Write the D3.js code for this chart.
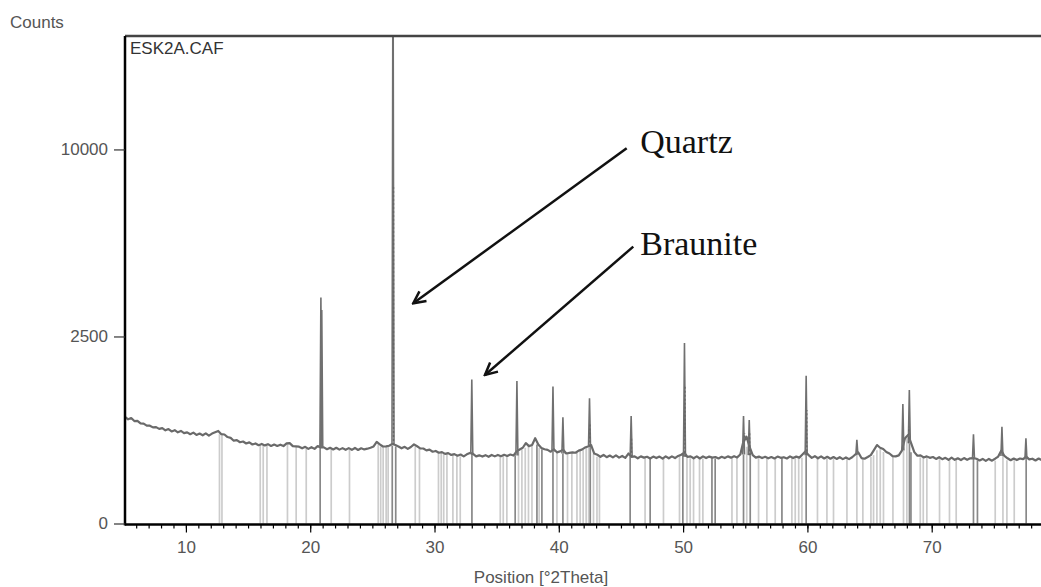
<!DOCTYPE html>
<html>
<head>
<meta charset="utf-8">
<script src="https://cdn.jsdelivr.net/npm/d3@7"></script>
<style>
  body { margin: 0; background: #fff; }
  text { font-family: Arial, "Liberation Sans", sans-serif; }
</style>
</head>
<body>
<svg width="1041" height="587"></svg>
<script>
// measured scan ESK2A.CAF: background counts from 5.1 deg, one value every 0.25 deg
const scanStart = 5.1;
const scanStep = 0.25;
const bgCounts = [
  812, 776, 795, 750,  752, 716, 712, 684,  684, 660, 664, 640,  650, 620, 638, 606,
  622, 594, 612, 584,  594, 570, 590, 560,  578, 556, 580, 552,  578, 596, 612, 570,
  566, 534, 524, 490,  496, 472, 480, 458,  470, 446, 458, 438,  452, 436, 450, 430,
  446, 430, 444, 428,  458, 462, 428, 426,  422, 404, 420, 398,  416, 398, 428, 414,
  414, 394, 410, 392,  410, 390, 406, 388,  406, 388, 408, 386,  404, 392, 400, 410,
  424, 476, 448, 424,  426, 432, 452, 440,  424, 404, 420, 398,  418, 448, 426, 404,
  402, 382, 390, 368,  376, 358, 364, 346,  354, 336, 344, 328,  340, 322, 342, 356,
  346, 322, 332, 320,  334, 318, 336, 322,  336, 324, 338, 326,  340, 330, 372, 392,
  410, 462, 428, 440,  520, 446, 408, 394,  388, 368, 394, 362,  372, 390, 350, 356,
  362, 358, 380, 390,  412, 424, 440, 350,  338, 318, 336, 314,  330, 312, 332, 310,
  326, 308, 350, 318,  322, 304, 322, 310,  318, 302, 320, 306,  320, 300, 322, 304,
  322, 306, 326, 338,  360, 318, 322, 304,  322, 302, 322, 306,  320, 310, 316, 302,
  318, 306, 322, 310,  324, 312, 340, 480,  540, 420, 334, 310,  320, 306, 318, 304,
  316, 302, 320, 308,  314, 302, 322, 306,  320, 310, 340, 372,  334, 308, 324, 304,
  322, 302, 318, 300,  316, 298, 314, 296,  312, 296, 314, 340,  360, 306, 300, 316,
  334, 384, 440, 410,  396, 366, 350, 324,  322, 332, 380, 520,  560, 460, 364, 328,
  332, 312, 322, 308,  316, 298, 314, 296,  308, 290, 310, 290,  304, 288, 306, 290,
  304, 306, 300, 284,  298, 280, 298, 282,  300, 320, 380, 326,  304, 286, 302, 288,
  302, 296, 320, 294,  300, 284, 302, 286,  300, 284, 298, 286,  292
];

// sharp peaks on top of the background, [2theta, counts at top]
const peaks = [[20.86, 3650], [20.93, 3260], [26.66, 26000], [33.0, 1480], [36.63, 1450], [39.53, 1340],
  [40.33, 805], [42.47, 1120], [45.82, 825], [50.11, 2330], [54.86, 825], [55.32, 765], [59.9, 1560],
  [63.98, 500], [67.68, 1020], [68.2, 1275], [73.36, 570], [75.65, 670], [77.58, 518]];

// fitted peak markers (dotted), [2theta, counts]
const peakMarks = [[26.7, 8110], [42.5, 722], [45.85, 539], [50.15, 1338], [54.95, 585], [55.35, 585],
  [59.95, 921], [68.15, 670]];

// reference pattern lines, strong and weak
const strongLines = [20.80, 26.60, 26.88, 33.01, 36.49, 38.24, 38.64, 39.53, 40.33, 42.53, 45.74, 47.35,
  49.98, 52.32, 52.58, 54.86, 55.40, 57.95, 59.90, 68.21, 68.33, 73.36, 73.68, 77.60];
const weakLines = [12.70, 12.90, 15.98, 16.22, 16.52, 18.17, 18.87, 19.68, 21.69, 23.16, 25.47, 25.67,
  25.87, 26.11, 26.27, 28.45, 28.79, 30.32, 30.54, 30.74, 31.00, 31.48, 31.80, 32.07, 35.29, 35.53, 35.82,
  36.76, 37.03, 37.30, 37.56, 37.84, 38.42, 39.85, 40.70, 41.05, 41.46, 41.72, 41.96, 42.20, 42.40, 42.79,
  43.07, 43.27, 46.94, 48.42, 49.71, 50.31, 50.57, 50.84, 51.32, 51.59, 53.93, 54.33, 55.12, 56.07, 56.74,
  57.41, 58.75, 59.02, 59.30, 59.56, 60.81, 61.57, 62.10, 63.18, 63.98, 64.46, 65.11, 65.32, 65.59, 65.86,
  66.12, 66.88, 67.73, 68.00, 69.08, 69.32, 69.61, 70.63, 71.43, 71.97, 75.11, 75.73, 76.05, 76.64];

const yTicks = [0, 2500, 10000];
const xTicks = [10, 20, 30, 40, 50, 60, 70];
const xMinor = d3.range(6, 81);

// annotations: label, text anchor and arrow from/to, in [2theta, counts]
const labels = ['Quartz', 'Braunite'];
const labelAt = [[46.55, 9814], [46.55, 5154]];
const arrowFrom = [[45.46, 10064], [45.99, 5478]];
const arrowTo = [[28.29, 3466], [34.06, 1577]];

const background = bgCounts.map((c, i) => [scanStart + i * scanStep, c]);

const svg = d3.select('svg');

const x = d3.scaleLinear().domain([5.1, 80]).range([125, 125 + 74.9 * 12.43]);
const y = d3.scaleSqrt().domain([0, 16985]).range([523.5, 36]);

svg.append('clipPath').attr('id', 'plot')
  .append('rect').attr('x', 125).attr('y', 36).attr('width', 1000).attr('height', 488);

const plot = svg.append('g').attr('clip-path', 'url(#plot)');

// background level under a line = lowest measured value nearby
const baseAt = t => d3.min(background.filter(p => Math.abs(p[0] - t) <= 0.3), p => p[1]) || 300;

plot.selectAll('.weak')
  .data(weakLines)
  .enter()
  .append('line')
  .classed('weak', true)
  .attr('x1', d => x(d)).attr('x2', d => x(d))
  .attr('y1', y(0)).attr('y2', d => y(baseAt(d)))
  .attr('stroke', '#cccccc')
  .attr('stroke-width', 1.7);

plot.selectAll('.strong')
  .data(strongLines)
  .enter()
  .append('line')
  .classed('strong', true)
  .attr('x1', d => x(d)).attr('x2', d => x(d))
  .attr('y1', y(0)).attr('y2', d => y(baseAt(d)))
  .attr('stroke', '#888')
  .attr('stroke-width', 1.7);

const line = d3.line().x(d => x(d[0])).y(d => y(d[1]));

plot.append('path')
  .datum(background)
  .attr('fill', 'none')
  .attr('stroke', '#6a6a6a')
  .attr('stroke-width', 2.2)
  .attr('stroke-linejoin', 'round')
  .attr('d', line);

plot.selectAll('.peak')
  .data(peaks)
  .enter()
  .append('path')
  .classed('peak', true)
  .attr('fill', 'none')
  .attr('stroke', '#707070')
  .attr('stroke-width', 1.6)
  .attr('d', d => line([[d[0] - 0.08, baseAt(d[0])], d, [d[0] + 0.08, baseAt(d[0])]]));

plot.selectAll('.mark')
  .data(peakMarks)
  .enter()
  .append('line')
  .classed('mark', true)
  .attr('x1', d => x(d[0])).attr('x2', d => x(d[0]))
  .attr('y1', d => y(baseAt(d[0]))).attr('y2', d => y(d[1]))
  .attr('stroke', '#666')
  .attr('stroke-width', 1.4)
  .attr('stroke-dasharray', '2,2');

// frame
svg.append('line').attr('x1', 125).attr('x2', 1041).attr('y1', 36).attr('y2', 36)
  .attr('stroke', '#444').attr('stroke-width', 2.5);

const xAxis = svg.append('g').attr('transform', `translate(0,${y(0) + 1})`);
xAxis.call(d3.axisBottom(x).tickValues(xMinor).tickSize(4).tickFormat(''));
xAxis.call(g => g.select('.domain').remove());
const xMajor = svg.append('g').attr('transform', `translate(0,${y(0) + 1})`)
  .call(d3.axisBottom(x).tickValues(xTicks).tickSize(8).tickPadding(8).tickFormat(d3.format('d')));
xMajor.select('.domain').attr('d', `M${x(5.1)},0H1041`).attr('stroke-width', 2.5);
svg.selectAll('.tick line').attr('stroke', '#000').attr('stroke-width', 1.2);

const yAxis = svg.append('g').attr('transform', `translate(${x(5.1)},0)`)
  .call(d3.axisLeft(y).tickValues(yTicks).tickSize(11).tickPadding(6).tickFormat(d3.format('d')));
yAxis.select('.domain').attr('d', `M0,36V${y(0) + 2}`).attr('stroke-width', 2.5);
yAxis.selectAll('.tick line').attr('stroke', '#333').attr('stroke-width', 1.2);

svg.selectAll('.tick text')
  .attr('fill', '#555')
  .style('font-size', '17px');

svg.append('text').attr('x', 10).attr('y', 28)
  .attr('fill', '#555').style('font-size', '17px').text('Counts');

svg.append('text').attr('x', 130).attr('y', 54)
  .attr('fill', '#333').style('font-size', '17px').text('ESK2A.CAF');

svg.append('text').attr('x', 541).attr('y', 583).attr('text-anchor', 'middle')
  .attr('fill', '#555').style('font-size', '17px').text('Position [°2Theta]');

// arrows with labels
svg.append('defs').append('marker')
  .attr('id', 'head')
  .attr('viewBox', '-14 -8 16 16')
  .attr('refX', 0).attr('refY', 0)
  .attr('markerUnits', 'userSpaceOnUse')
  .attr('markerWidth', 16).attr('markerHeight', 16)
  .attr('orient', 'auto')
  .append('path')
  .attr('d', 'M-12,-6L0,0L-12,6')
  .attr('fill', 'none').attr('stroke', '#111').attr('stroke-width', 2.5);

svg.selectAll('.arrow')
  .data(labels)
  .enter()
  .append('line')
  .classed('arrow', true)
  .attr('x1', (d, i) => x(arrowFrom[i][0])).attr('y1', (d, i) => y(arrowFrom[i][1]))
  .attr('x2', (d, i) => x(arrowTo[i][0])).attr('y2', (d, i) => y(arrowTo[i][1]))
  .attr('stroke', '#111')
  .attr('stroke-width', 2.5)
  .attr('marker-end', 'url(#head)');

svg.selectAll('.label')
  .data(labels)
  .enter()
  .append('text')
  .classed('label', true)
  .attr('x', (d, i) => x(labelAt[i][0]))
  .attr('y', (d, i) => y(labelAt[i][1]))
  .attr('fill', '#111')
  .style('font-family', '"Liberation Serif", "Times New Roman", serif')
  .style('font-size', '34px')
  .text(d => d);
</script>
</body>
</html>
